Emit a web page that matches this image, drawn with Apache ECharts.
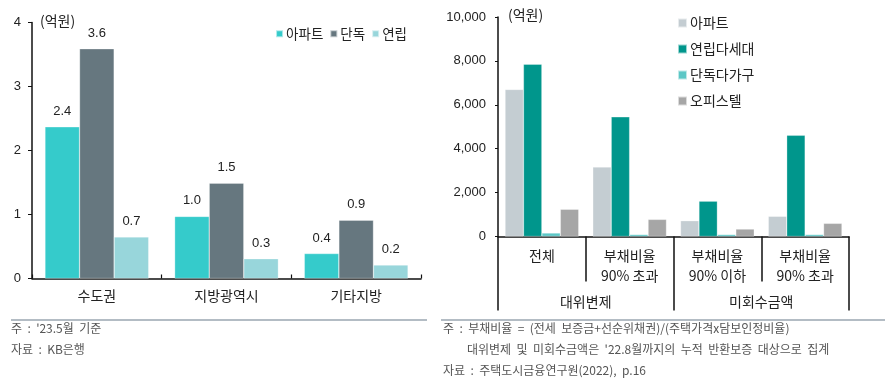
<!DOCTYPE html>
<html><head><meta charset="utf-8">
<script src="https://cdn.jsdelivr.net/npm/echarts@6/dist/echarts.min.js"></script>
<style>html,body{margin:0;padding:0;background:#fff}#c{width:890px;height:389px}</style>
</head><body><div id="c"></div>
<script>
// Left chart data (억원)
const leftCats = ['수도권', '지방광역시', '기타지방'];
const leftNames = ['아파트', '단독', '연립'];
const leftApt = [2.37, 0.97, 0.39];
const leftDetached = [3.59, 1.49, 0.91];
const leftRow = [0.65, 0.31, 0.21];
const leftTicks = [0, 1, 2, 3, 4];

// Right chart data (억원)
const rightCats = ['전체', '부채비율\n90% 초과', '부채비율\n90% 이하', '부채비율\n90% 초과'];
const rightGroups = ['대위변제', '미회수금액'];
const rightNames = ['아파트', '연립다세대', '단독다가구', '오피스텔'];
const rApt = [6700, 3170, 720, 920];
const rRow = [7850, 5450, 1610, 4610];
const rDet = [160, 90, 90, 90];
const rOff = [1240, 780, 340, 600];

const NUM = 'Liberation Sans, Noto Sans CJK KR, sans-serif';
const KR = 'Noto Sans CJK KR, sans-serif';
const leftColors = ['#35CBCB', '#66777F', '#98D6DB'];
const rightColors = ['#C4CDD2', '#00968C', '#5CC7C6', '#A6A6A6'];

const chart = echarts.init(document.getElementById('c'), null, {renderer: 'canvas'});
function barS(name, id, data, color, xi, yi, label) {
  return {
    id, name, type: 'bar', data, xAxisIndex: xi, yAxisIndex: yi,
    itemStyle: {color, borderColor: 'rgba(255,255,255,0.6)', borderWidth: 0.5},
    barGap: '0%', barCategoryGap: xi === 0 ? '20%' : '16%',
    label: label ? {show: true, position: 'top', distance: 9, fontFamily: NUM, fontSize: 13, color: '#222',
      formatter: p => p.value.toFixed(1)} : {show: false},
    animation: false
  };
}
const NOTE = '12px ' + KR;
chart.setOption({
  animation: false,
  grid: [
    {left: 32, right: 469, top: 22.5, bottom: 110.5},
    {left: 498, right: 41, top: 17, bottom: 152.5}
  ],
  legend: [
    {data: leftNames.map((n, i) => ({name: n, itemStyle: {color: leftColors[i]}})),
     right: 478, top: 22, itemWidth: 7, itemHeight: 7, itemGap: 6,
     icon: 'rect', textStyle: {fontFamily: KR, fontSize: 13.5, color: '#222', padding: [0, 0, 0, -2]}},
    {data: rightNames.map((n, i) => ({name: n, itemStyle: {color: rightColors[i]}})),
     orient: 'vertical', left: 672, top: 11, itemWidth: 9, itemHeight: 9, itemGap: 12,
     icon: 'rect', textStyle: {fontFamily: KR, fontSize: 14, color: '#222', padding: [0, 0, 0, -2]}}
  ],
  xAxis: [
    {type: 'category', gridIndex: 0, data: leftCats,
     axisLine: {lineStyle: {color: '#111', width: 1.5}},
     axisTick: {show: true, inside: true, length: 4, lineStyle: {color: '#111', width: 1.2}},
     axisLabel: {fontFamily: KR, fontSize: 14, color: '#222', margin: 10}},
    {type: 'category', gridIndex: 1, data: rightCats, position: 'bottom',
     axisLine: {lineStyle: {color: '#111', width: 1.5}},
     axisTick: {show: true, length: 45, lineStyle: {color: '#111', width: 1.5}},
     axisLabel: {fontFamily: KR, fontSize: 14, color: '#222', margin: 9, lineHeight: 20}},
    {type: 'category', gridIndex: 1, data: rightGroups, position: 'bottom', offset: 0,
     axisLine: {show: false},
     axisTick: {show: true, length: 74, lineStyle: {color: '#111', width: 1.5}},
     axisLabel: {fontFamily: KR, fontSize: 14, color: '#222', margin: 58}}
  ],
  yAxis: [
    {type: 'value', gridIndex: 0, min: leftTicks[0], max: leftTicks[leftTicks.length - 1], interval: 1,
     splitLine: {show: false},
     axisLine: {show: true, lineStyle: {color: '#111', width: 1.5}},
     axisTick: {show: true, length: 4, lineStyle: {color: '#111'}},
     axisLabel: {fontFamily: NUM, fontSize: 13, color: '#222', margin: 11}},
    {type: 'value', gridIndex: 1, min: 0, max: 10000, interval: 2000,
     splitLine: {show: false},
     axisLine: {show: true, lineStyle: {color: '#111', width: 1.5}},
     axisTick: {show: true, length: 3, lineStyle: {color: '#111'}},
     axisLabel: {fontFamily: NUM, fontSize: 13, color: '#222', margin: 12,
       formatter: v => v.toLocaleString('en-US')}}
  ],
  series: [
    barS(leftNames[0], 'l0', leftApt, leftColors[0], 0, 0, true),
    barS(leftNames[1], 'l1', leftDetached, leftColors[1], 0, 0, true),
    barS(leftNames[2], 'l2', leftRow, leftColors[2], 0, 0, true),
    barS(rightNames[0], 'r0', rApt, rightColors[0], 1, 1, false),
    barS(rightNames[1], 'r1', rRow, rightColors[1], 1, 1, false),
    barS(rightNames[2], 'r2', rDet, rightColors[2], 1, 1, false),
    barS(rightNames[3], 'r3', rOff, rightColors[3], 1, 1, false)
  ],
  graphic: [
    {type: 'text', left: 40, top: 14, style: {text: '(억원)', font: '14px ' + KR, fill: '#222'}},
    {type: 'text', left: 508, top: 8, style: {text: '(억원)', font: '14px ' + KR, fill: '#222'}},
    {type: 'line', shape: {x1: 11, y1: 320, x2: 427, y2: 320}, style: {stroke: '#9AA6B0', lineWidth: 1.5}},
    {type: 'line', shape: {x1: 441, y1: 320, x2: 885, y2: 320}, style: {stroke: '#9AA6B0', lineWidth: 1.5}},
    {type: 'text', left: 11, top: 322, style: {text: "주  :  '23.5월  기준", font: NOTE, fill: '#555'}},
    {type: 'text', left: 11, top: 343, style: {text: '자료  :  KB은행', font: NOTE, fill: '#555'}},
    {type: 'text', left: 443, top: 322, style: {text: '주  :  부채비율  =  (전세  보증금+선순위채권)/(주택가격x담보인정비율)', font: NOTE, fill: '#555'}},
    {type: 'text', left: 467, top: 343, style: {text: "대위변제  및  미회수금액은  '22.8월까지의  누적  반환보증  대상으로  집계", font: NOTE, fill: '#555'}},
    {type: 'text', left: 443, top: 364, style: {text: '자료  :  주택도시금융연구원(2022),  p.16', font: NOTE, fill: '#555'}}
  ]
});
</script></body></html>
